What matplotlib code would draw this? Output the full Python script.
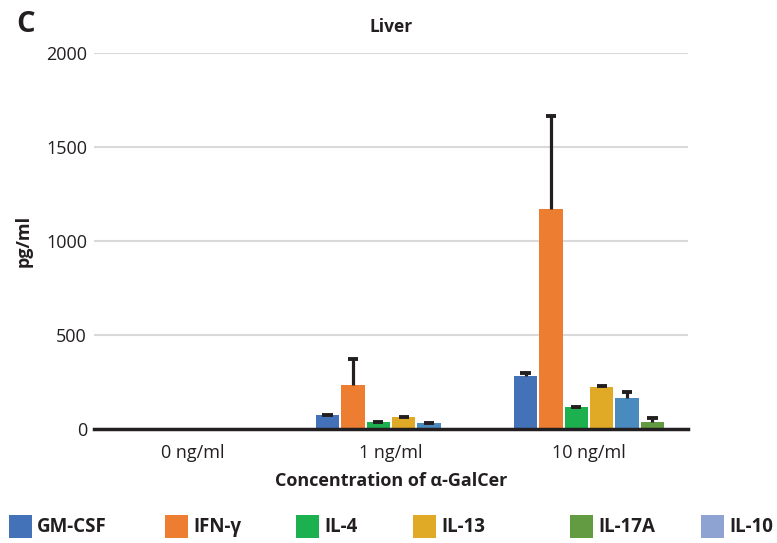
import matplotlib
matplotlib.use('Agg')
import matplotlib.pyplot as plt
from matplotlib import font_manager
from matplotlib.patches import Rectangle
import numpy as np

# pick a family that actually ships a bold face
font_name = 'DejaVu Sans'
for cand in ['Open Sans', 'Lato', 'Roboto', 'Noto Sans', 'Liberation Sans']:
    try:
        p = font_manager.findfont(font_manager.FontProperties(family=cand, weight='bold'),
                                  fallback_to_default=False)
        if 'bold' in p.lower():
            font_name = cand
            break
    except Exception:
        pass
plt.rcParams['font.family'] = [font_name, 'DejaVu Sans']

concentrations = ['0 ng/ml', '1 ng/ml', '10 ng/ml']
series = ['GM-CSF', 'IFN-γ', 'IL-4', 'IL-13', 'IL-10', 'IL-17A']
bar_colors = ['#4472B8', '#ED7D31', '#1DB04E', '#E1AA26', '#4A8BBF', '#629B41']

values = {
    'GM-CSF': [0, 75, 282],
    'IFN-γ': [0, 234, 1170],
    'IL-4': [0, 37, 117],
    'IL-13': [0, 64, 223],
    'IL-10': [0, 32, 165],
    'IL-17A': [0, 0, 37],
}
errors = {
    'GM-CSF': [0, 1, 14],
    'IFN-γ': [0, 138, 495],
    'IL-4': [0, 1, 2],
    'IL-13': [0, 2, 4],
    'IL-10': [0, 0, 30],
    'IL-17A': [0, 0, 20],
}

# legend as printed in the figure
legend_names = ['GM-CSF', 'IFN-γ', 'IL-4', 'IL-13', 'IL-17A', 'IL-10']
legend_colors = ['#4472B8', '#ED7D31', '#1DB04E', '#E1AA26', '#629B41', '#8FA3D3']
legend_x = [9, 165, 296, 413, 570, 701]  # left edge of each key, px

W, H = 777, 543
fig = plt.figure(figsize=(W / 100, H / 100), dpi=100)
ax = fig.add_axes([94 / W, 1 - 429 / H, 594 / W, 376 / H])

dark = '#231F20'
x = np.arange(len(concentrations))
w = 0.128
for k, name in enumerate(series):
    pos = x + (k - 2.5) * w
    vals = np.array(values[name])
    errs = np.array(errors[name])
    ax.bar(pos, vals, width=w * 0.91, color=bar_colors[k], zorder=2)
    m = vals > 0
    ax.vlines(pos[m], vals[m], vals[m] + errs[m], color=dark, linewidth=2.3, zorder=3)
    ax.hlines(vals[m] + errs[m], pos[m] - 0.026, pos[m] + 0.026, color=dark, linewidth=2.8, zorder=3)

ax.set_xlim(-0.5, 2.5)
ax.set_ylim(0, 2000)
ax.set_yticks([0, 500, 1000, 1500, 2000])
ax.grid(axis='y', color='#D9D9D9', linewidth=1.5, zorder=0)
ax.set_axisbelow(True)
for s in ['top', 'right', 'left']:
    ax.spines[s].set_visible(False)
ax.spines['bottom'].set_color(dark)
ax.spines['bottom'].set_linewidth(2.5)
ax.spines['bottom'].set_zorder(4)
ax.tick_params(axis='y', length=0, labelsize=13, colors=dark, pad=5)
ax.tick_params(axis='x', length=0, labelsize=13, colors=dark, pad=11)
ax.set_xticks(x)
ax.set_xticklabels(concentrations)

ax.set_title('Liver', fontsize=12.5, fontweight='bold', color=dark, pad=15)
ax.set_ylabel('pg/ml', fontsize=13, fontweight='bold', color=dark, labelpad=10)
ax.set_xlabel('Concentration of α-GalCer', fontsize=13, fontweight='bold', color=dark, labelpad=7)

fig.text(16 / W, 1 - 32 / H, 'C', fontsize=21, fontweight='bold', color=dark)

for lx, c, name in zip(legend_x, legend_colors, legend_names):
    fig.patches.append(Rectangle((lx / W, 1 - 538 / H), 23 / W, 23 / H, transform=fig.transFigure,
                                 facecolor=c, edgecolor='none', figure=fig))
    fig.text((lx + 28) / W, 1 - 527 / H, name, fontsize=13.5, fontweight='bold',
             color=dark, va='center', ha='left')

fig.savefig('out.png', dpi=100)
